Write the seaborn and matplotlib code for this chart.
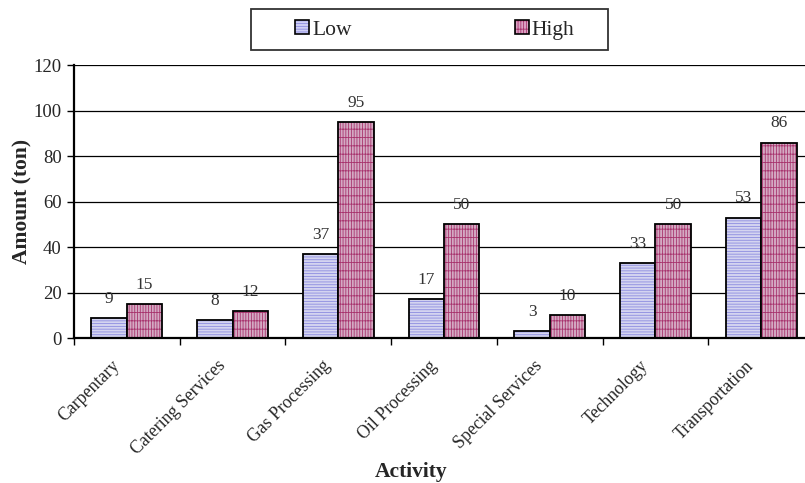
import matplotlib.pyplot as plt
import matplotlib.colors as mcolors
import matplotlib.transforms as mtransforms
from matplotlib.patches import Patch, Rectangle
import seaborn as sns
import pandas as pd

activities = ['Carpentary', 'Catering Services', 'Gas Processing', 'Oil Processing',
              'Special Services', 'Technology', 'Transportation']
low = [9, 8, 37, 17, 3, 33, 53]
high = [15, 12, 95, 50, 10, 50, 86]

df = pd.DataFrame({
    'Activity': activities * 2,
    'Amount': low + high,
    'Level': ['Low'] * len(low) + ['High'] * len(high),
})

sns.set_style('white')
plt.rcParams['font.family'] = ['Liberation Serif', 'DejaVu Serif']
plt.rcParams['hatch.linewidth'] = 0.6

fills = {'Low': '#cfcff5', 'High': '#dba3c4'}
hatch_cols = {'Low': '#8c8ce0', 'High': '#a8356e'}
hatches = {'Low': '------', 'High': '||||++'}

fig = plt.figure(figsize=(8.05, 4.83), dpi=100)
# axes runs slightly past the right edge of the picture, as in the original
ax = fig.add_axes([74 / 805, 0.300, 740 / 805, 0.565])

sns.barplot(data=df, x='Activity', y='Amount', hue='Level', hue_order=['Low', 'High'],
            palette=fills, width=0.67, edgecolor='black', linewidth=1.3, ax=ax, legend=False)

for cont, lvl in zip(ax.containers, ['Low', 'High']):
    for p in cont:
        p.set_hatch(hatches[lvl])
        p._hatch_color = mcolors.to_rgba(hatch_cols[lvl])
    ax.bar_label(cont, padding=8, fontsize=12.5, color='#333333')

ax.set_ylim(0, 120)
ax.set_yticks(range(0, 121, 20))
ax.set_xlim(-0.5, len(activities) - 0.5)
ax.yaxis.grid(True, color='black', linewidth=0.9)
ax.set_axisbelow(True)
for s in ['top', 'right']:
    ax.spines[s].set_visible(False)
ax.spines['left'].set_linewidth(1.6)
ax.spines['bottom'].set_linewidth(1.6)
ax.spines['left'].set_color('black')
ax.spines['bottom'].set_color('black')

ax.set_xticks(range(len(activities)))
ax.set_xticklabels(activities, rotation=45, ha='right', rotation_mode='anchor', fontsize=12.8)
ax.set_xticks([i - 0.5 for i in range(len(activities) + 1)], minor=True)
ax.tick_params(axis='x', which='major', length=0, pad=6)
ax.tick_params(axis='x', which='minor', length=5, width=1, color='black', direction='out', bottom=True)
ax.tick_params(axis='y', length=5, width=1, color='black', direction='out', left=True,
               labelsize=13.5, pad=4)
shift = mtransforms.ScaledTranslation(-0.16, -0.11, fig.dpi_scale_trans)
for lab in ax.get_xticklabels():
    lab.set_transform(lab.get_transform() + shift)

ax.set_ylabel('Amount (ton)', fontsize=15.5, fontweight='bold', labelpad=1)
ax.set_xlabel('Activity', fontsize=15.5, fontweight='bold')
ax.xaxis.set_label_coords(0.455, -0.455)

handles = [Patch(facecolor=fills[k], edgecolor='black', hatch=hatches[k], linewidth=1.2) for k in ['Low', 'High']]
for h, k in zip(handles, ['Low', 'High']):
    h._hatch_color = mcolors.to_rgba(hatch_cols[k])
leg = fig.legend(handles, ['Low', 'High'], loc='center', bbox_to_anchor=(435 / 805, 1 - 30 / 483),
                 ncol=2, frameon=False, fontsize=15.5,
                 columnspacing=7.6, handlelength=0.62, handleheight=0.62, handletextpad=0.15,
                 borderpad=0.2)
fig.patches.append(Rectangle((251 / 805, 1 - 50 / 483), 357 / 805, 41 / 483,
                             transform=fig.transFigure, fill=False, edgecolor='#333333', linewidth=1.3))

fig.savefig('out.png', dpi=100)
